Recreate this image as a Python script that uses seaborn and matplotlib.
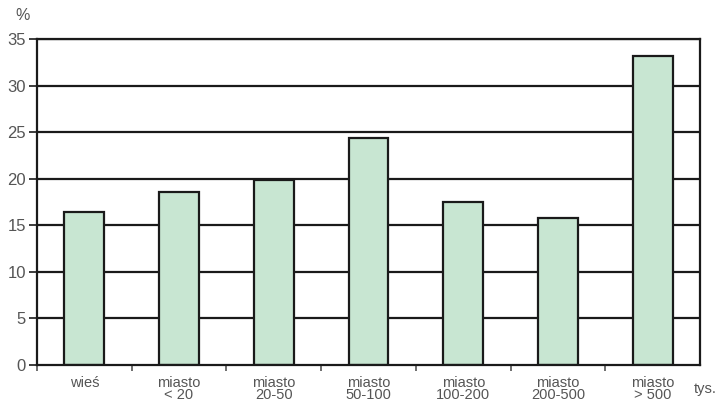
import matplotlib
matplotlib.use("Agg")
import matplotlib.pyplot as plt
import seaborn as sns
import pandas as pd
from matplotlib.ticker import MultipleLocator, FixedLocator

categories = ["wieś", "miasto\n< 20", "miasto\n20-50", "miasto\n50-100",
              "miasto\n100-200", "miasto\n200-500", "miasto\n> 500"]
values = [16.4, 18.6, 19.9, 24.4, 17.5, 15.8, 33.2]

df = pd.DataFrame({"cat": categories, "val": values})

sns.set_style("white")
plt.rcParams['font.family'] = ['Liberation Sans', 'DejaVu Sans']

fig = plt.figure(figsize=(7.24, 4.01), dpi=100)
ax = fig.add_axes([0.051, 0.0898, 0.916, 0.813])

for y in range(5, 36, 5):
    ax.axhline(y, color="#1a1a1a", lw=1.6, zorder=0)

sns.barplot(data=df, x="cat", y="val", color="#c8e6d2", saturation=1,
            width=0.42, edgecolor="#1a1a1a", linewidth=1.6, ax=ax, zorder=2)

ax.set_xlim(-0.5, 6.5)
ax.set_ylim(0, 35)
ax.yaxis.set_major_locator(MultipleLocator(5))
ax.set_xlabel("")
ax.set_ylabel("")
for s in ["left", "bottom", "right", "top"]:
    ax.spines[s].set_visible(True)
    ax.spines[s].set_color("#1a1a1a")
    ax.spines[s].set_linewidth(1.6)

ax.tick_params(axis="y", which="major", direction="out", length=6, width=1.2,
               color="#1a1a1a", labelsize=12, labelcolor="#555555", pad=2, left=True)
ax.tick_params(axis="x", which="major", length=0, labelsize=10.5,
               labelcolor="#555555", pad=8)
ax.xaxis.set_minor_locator(FixedLocator([i + 0.5 for i in range(-1, 6)]))
ax.tick_params(axis="x", which="minor", direction="out", length=4, width=1.2,
               color="#555555", bottom=True)
for lbl in ax.get_xticklabels():
    lbl.set_linespacing(0.8)

fig.text(0.021, 0.962, "%", fontsize=11.5, color="#555555", ha="left", va="center")
fig.text(0.99, 0.012, "tys.", fontsize=10.5, color="#555555", ha="right", va="bottom")

fig.savefig("out.png", dpi=100)
